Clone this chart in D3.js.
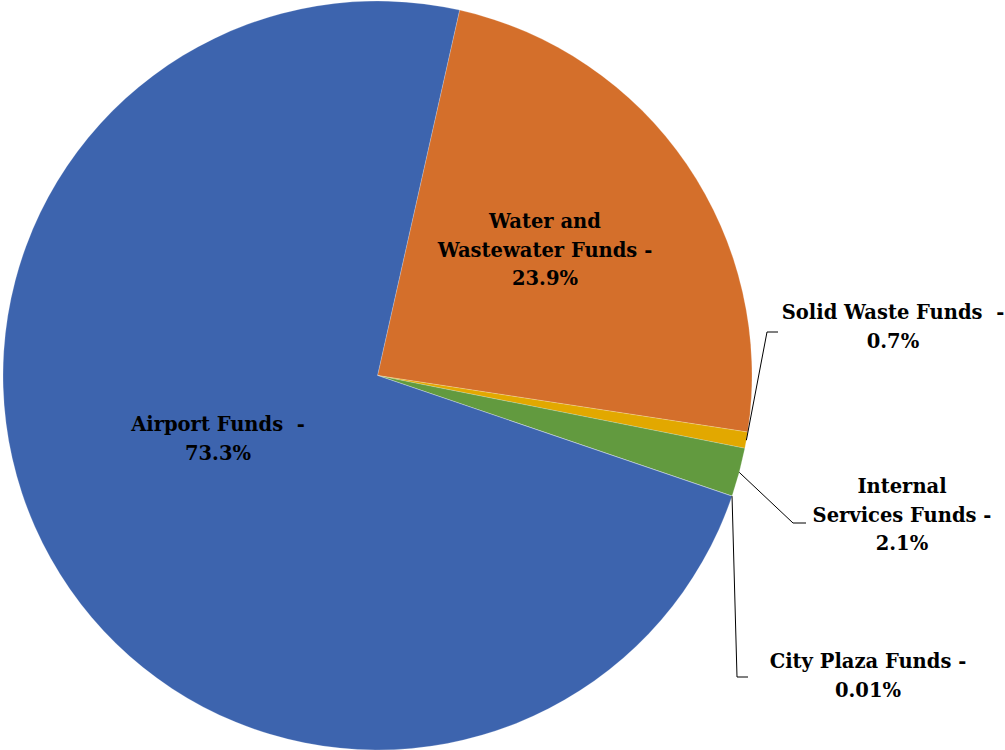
<!DOCTYPE html>
<html>
<head>
<meta charset="utf-8">
<script src="https://cdn.jsdelivr.net/npm/d3@7"></script>
<style>
  html, body { margin: 0; padding: 0; background: #fff; }
  svg text { font-family: "DejaVu Serif", serif; font-weight: bold; fill: #000; }
</style>
</head>
<body>
<svg id="chart" width="1005" height="750"></svg>
<script>
// Data
const categories = ["Water and Wastewater Funds", "Solid Waste Funds", "Internal Services Funds", "City Plaza Funds", "Airport Funds"];
const values = [23.9, 0.7, 2.1, 0.01, 73.3];
const valueLabels = ["23.9%", "0.7%", "2.1%", "0.01%", "73.3%"];
const colors = ["#D46F2B", "#E2A800", "#629A3F", "#4E74B6", "#3D64AE"];

// Layout
const cx = 377.5, cy = 375.5, R = 374.5;
const startDeg = 12.66;
const fontSize = 19.5;
const lineH = 28.5;

// label lines (text), center x, first baseline y
const labelLines = [
  ["Water and", "Wastewater Funds -", "23.9%"],
  ["Solid Waste Funds  -", "0.7%"],
  ["Internal", "Services Funds -", "2.1%"],
  ["City Plaza Funds -", "0.01%"],
  ["Airport Funds  -", "73.3%"]
];
const labelPos = [[545, 228], [893, 319], [902, 493], [868, 668], [218, 431]];
// leader line elbows (for outside labels): [elbowX, elbowY, endX]
const leaders = [null, [767, 332, 778], [793, 523, 806], [737, 677, 748], null];

const svg = d3.select("#chart");
const g = svg.append("g").attr("transform", `translate(${cx},${cy})`);

const pie = d3.pie().sort(null).value(d => d)
  .startAngle(startDeg * Math.PI / 180)
  .endAngle(startDeg * Math.PI / 180 + 2 * Math.PI);
const arcs = pie(values);
const arc = d3.arc().innerRadius(0).outerRadius(R);

g.selectAll("path.slice").data(arcs).enter().append("path")
  .attr("class", "slice")
  .attr("d", arc)
  .attr("fill", (d, i) => colors[i])
  .attr("stroke", "#fff")
  .attr("stroke-width", 0.5)
  .attr("stroke-opacity", 0.4);

// leader lines
arcs.forEach((d, i) => {
  const L = leaders[i];
  if (!L) return;
  const a = (d.startAngle + d.endAngle) / 2;
  const px = cx + R * Math.sin(a), py = cy - R * Math.cos(a);
  svg.append("polyline")
    .attr("points", `${px},${py} ${L[0]},${L[1]} ${L[2]},${L[1]}`)
    .attr("fill", "none")
    .attr("stroke", "#000")
    .attr("stroke-width", 1);
});

// labels
labelLines.forEach((lines, i) => {
  const t = svg.append("text")
    .attr("text-anchor", "middle")
    .attr("font-size", fontSize);
  lines.forEach((ln, j) => {
    t.append("tspan")
      .attr("x", labelPos[i][0])
      .attr("y", labelPos[i][1] + j * lineH)
      .attr("xml:space", "preserve")
      .style("white-space", "pre")
      .text(ln);
  });
});
</script>
</body>
</html>
